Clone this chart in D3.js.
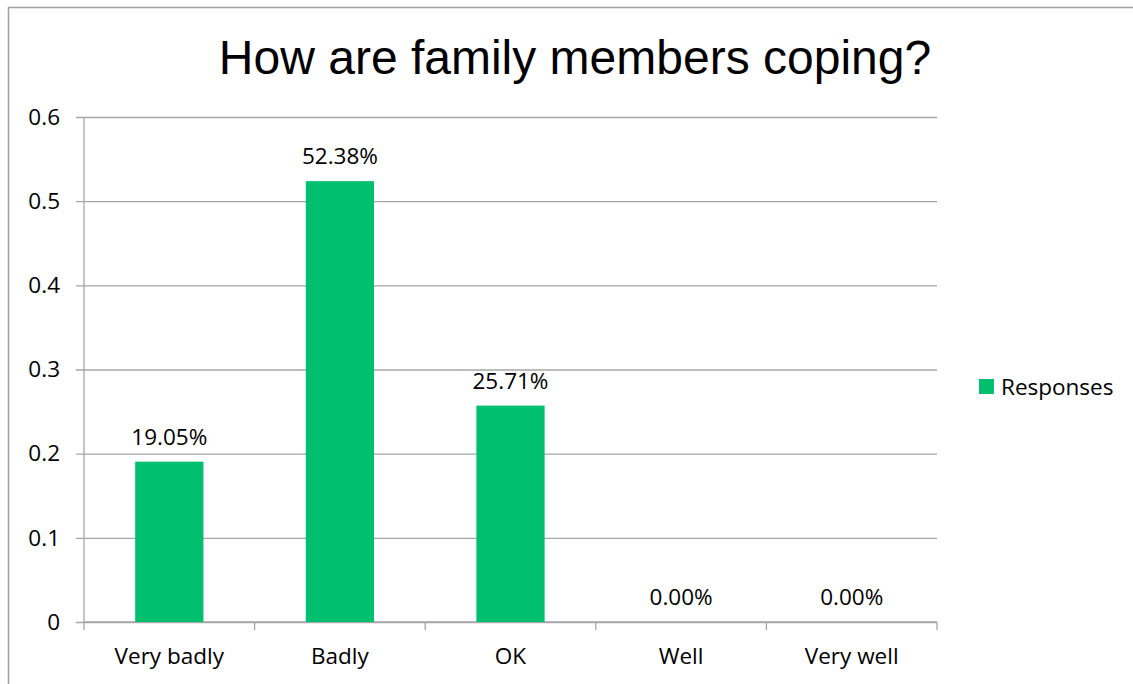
<!DOCTYPE html>
<html>
<head>
<meta charset="utf-8">
<script src="https://cdn.jsdelivr.net/npm/d3@7/dist/d3.min.js"></script>
<style>
  html, body { margin: 0; padding: 0; background: #fff; }
  svg { display: block; }
  text { font-family: "Open Sans", Lato, "Liberation Sans", sans-serif; fill: #000; }
  .title { font-family: "Liberation Sans", Arial, sans-serif; }
</style>
</head>
<body>
<svg id="chart" width="1133" height="684"></svg>
<script>
// Survey answers and their response shares
const categories = ["Very badly", "Badly", "OK", "Well", "Very well"];
const responses = [0.1905, 0.5238, 0.2571, 0.0, 0.0];
const yTicks = [0, 0.1, 0.2, 0.3, 0.4, 0.5, 0.6];
const seriesName = "Responses";
const titleText = "How are family members coping?";

const svg = d3.select("#chart");
const W = 1133, H = 684;
const green = "#00BF6F";
const gridColor = "#A6A6A6";
const fs = 22.5;

// Outer chart frame (runs past the bottom and right edges)
svg.append("rect")
  .attr("x", 8.5).attr("y", 7.5)
  .attr("width", W + 20).attr("height", H + 20)
  .attr("fill", "#fff").attr("stroke", "#A0A0A0").attr("stroke-width", 1.5);

const plot = { left: 84, right: 937, top: 117, bottom: 622 };

const x = d3.scaleBand().domain(categories).range([plot.left, plot.right]).padding(0);
const y = d3.scaleLinear().domain([0, 0.6]).range([plot.bottom, plot.top]);

// Title
svg.append("text").attr("class", "title")
  .attr("x", 575).attr("y", 74)
  .attr("text-anchor", "middle")
  .attr("font-size", 48)
  .text(titleText);

// Horizontal gridlines
const yAxis = d3.axisLeft(y).tickValues(yTicks)
  .tickSize(-(plot.right - plot.left))
  .tickFormat(d => d3.format("")(d));
const gy = svg.append("g").attr("transform", `translate(${plot.left},0)`).call(yAxis);
gy.select(".domain").remove();
gy.selectAll(".tick line").attr("stroke", gridColor).attr("stroke-width", 1.3).attr("x1", -8);
gy.selectAll(".tick text").attr("x", -24).attr("font-size", fs)
  .attr("font-family", "'Open Sans', Lato, sans-serif").attr("fill", "#000");

// Y axis line
svg.append("line")
  .attr("x1", plot.left).attr("x2", plot.left)
  .attr("y1", plot.top).attr("y2", plot.bottom)
  .attr("stroke", gridColor).attr("stroke-width", 1.3);

// X axis with ticks at category boundaries
const gx = svg.append("g").attr("transform", `translate(0,${plot.bottom})`);
gx.append("line").attr("x1", plot.left).attr("x2", plot.right)
  .attr("stroke", gridColor).attr("stroke-width", 1.3);
const bounds = categories.map(c => x(c)).concat([x(categories[categories.length - 1]) + x.bandwidth()]);
gx.selectAll(".bt").data(bounds).join("line")
  .attr("x1", d => d).attr("x2", d => d).attr("y1", 0).attr("y2", 8)
  .attr("stroke", gridColor).attr("stroke-width", 1.3);
gx.selectAll(".cl").data(categories).join("text")
  .attr("x", d => x(d) + x.bandwidth() / 2).attr("y", 42)
  .attr("text-anchor", "middle").attr("font-size", fs)
  .text(d => d);

// Bars
const barW = x.bandwidth() * 0.4;
svg.selectAll(".bar").data(categories).join("rect")
  .attr("x", d => x(d) + (x.bandwidth() - barW) / 2)
  .attr("y", (d, i) => y(responses[i]))
  .attr("width", barW)
  .attr("height", (d, i) => y(0) - y(responses[i]))
  .attr("fill", green);

// Value labels
svg.selectAll(".vl").data(categories).join("text")
  .attr("x", d => x(d) + x.bandwidth() / 2)
  .attr("y", (d, i) => y(responses[i]) - 17)
  .attr("text-anchor", "middle").attr("font-size", fs)
  .text((d, i) => d3.format(".2%")(responses[i]));

// Legend
const lg = svg.append("g").attr("transform", "translate(979,379)");
lg.append("rect").attr("width", 15).attr("height", 15).attr("fill", green);
lg.append("text").attr("x", 22).attr("y", 15.5).attr("font-size", fs).text(seriesName);
</script>
</body>
</html>
